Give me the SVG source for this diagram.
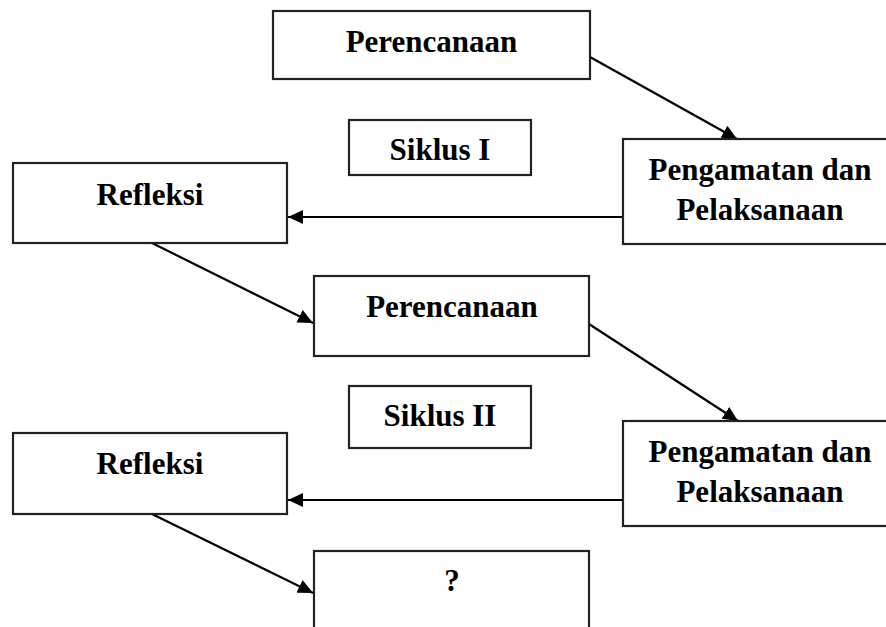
<svg xmlns="http://www.w3.org/2000/svg" width="886" height="627" viewBox="0 0 886 627">
<style>
.box{fill:#fff;stroke:#222;stroke-width:2.2}
.t{font-family:"Liberation Serif","Times New Roman",serif;font-weight:bold;font-size:31px;fill:#000;text-anchor:middle}
.c{fill:none;stroke:#000;stroke-width:2.2;marker-end:url(#ah)}
</style>
<defs>
<marker id="ah" markerUnits="userSpaceOnUse" markerWidth="16" markerHeight="14" refX="15" refY="7" orient="auto">
<path d="M0,0 L15,7 L0,14 z" fill="#000"/>
</marker>
</defs>
<rect width="886" height="627" fill="#fff"/>
<g id="connectors">
<line class="c" x1="590" y1="57" x2="737" y2="139"/>
<line class="c" x1="623" y1="217" x2="288" y2="217"/>
<line class="c" x1="152" y1="243" x2="313" y2="323"/>
<line class="c" x1="589" y1="324" x2="738" y2="421"/>
<line class="c" x1="623" y1="500" x2="288" y2="500"/>
<line class="c" x1="152" y1="514" x2="313" y2="593"/>
</g>
<g id="perencanaan1">
<rect class="box" x="273" y="11" width="317" height="68"/>
<text class="t" x="431.5" y="52">Perencanaan</text>
</g>
<g id="siklus1">
<rect class="box" x="349" y="120" width="182" height="55"/>
<text class="t" x="440" y="160">Siklus I</text>
</g>
<g id="pengamatan1">
<rect class="box" x="623" y="139" width="274" height="105"/>
<text class="t" x="760" y="180">Pengamatan dan</text>
<text class="t" x="760" y="220">Pelaksanaan</text>
</g>
<g id="refleksi1">
<rect class="box" x="13" y="163" width="274" height="80"/>
<text class="t" x="150" y="205">Refleksi</text>
</g>
<g id="perencanaan2">
<rect class="box" x="314" y="276" width="275" height="80"/>
<text class="t" x="452" y="317">Perencanaan</text>
</g>
<g id="siklus2">
<rect class="box" x="349" y="386" width="182" height="62"/>
<text class="t" x="440" y="426">Siklus II</text>
</g>
<g id="pengamatan2">
<rect class="box" x="623" y="421" width="274" height="105"/>
<text class="t" x="760" y="462">Pengamatan dan</text>
<text class="t" x="760" y="502">Pelaksanaan</text>
</g>
<g id="refleksi2">
<rect class="box" x="13" y="433" width="274" height="81"/>
<text class="t" x="150" y="474">Refleksi</text>
</g>
<g id="question">
<rect class="box" x="314" y="551" width="275" height="90"/>
<text class="t" x="452" y="591">?</text>
</g>
</svg>
